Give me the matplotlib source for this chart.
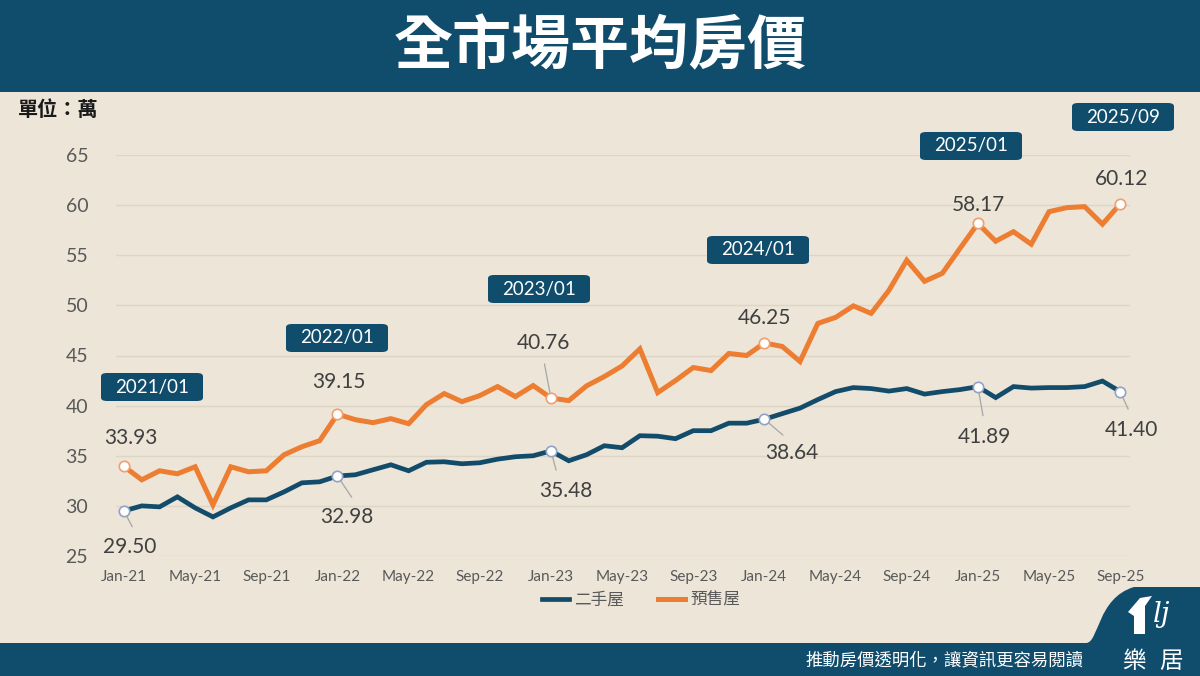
import matplotlib
matplotlib.use("Agg")
import matplotlib.pyplot as plt
from matplotlib.patches import FancyBboxPatch, Rectangle, PathPatch, Polygon
from matplotlib.path import Path
from matplotlib.lines import Line2D

plt.rcParams['font.family'] = ['Lato', 'Noto Sans CJK TC', 'DejaVu Sans']

# ---------------- data ----------------
title = "全市場平均房價"
unit_label = "單位：萬"
series_names = ["二手屋", "預售屋"]
tick_labels = ["Jan-21", "May-21", "Sep-21", "Jan-22", "May-22", "Sep-22",
               "Jan-23", "May-23", "Sep-23", "Jan-24", "May-24", "Sep-24",
               "Jan-25", "May-25", "Sep-25"]
resale = [29.50, 30.0, 29.9, 30.9, 29.8, 28.9, 29.8, 30.6, 30.6, 31.4, 32.3, 32.4,
          32.98, 33.1, 33.6, 34.1, 33.5, 34.35, 34.4, 34.2, 34.3, 34.66, 34.9, 35.0,
          35.48, 34.5, 35.1, 36.0, 35.8, 37.0, 36.95, 36.7, 37.5, 37.5, 38.25, 38.25,
          38.64, 39.2, 39.75, 40.6, 41.4, 41.8, 41.7, 41.45, 41.7, 41.15, 41.4, 41.6,
          41.89, 40.8, 41.9, 41.75, 41.8, 41.8, 41.9, 42.45, 41.40]
presale = [33.93, 32.6, 33.5, 33.2, 33.9, 30.1, 33.9, 33.4, 33.5, 35.1, 35.9, 36.5,
           39.15, 38.6, 38.3, 38.7, 38.2, 40.1, 41.2, 40.4, 41.0, 41.9, 40.9, 42.0,
           40.76, 40.5, 41.97, 42.9, 43.96, 45.66, 41.3, 42.5, 43.8, 43.5, 45.2, 45.0,
           46.25, 45.9, 44.4, 48.2, 48.8, 49.95, 49.2, 51.5, 54.5, 52.4, 53.2, 55.7,
           58.17, 56.4, 57.35, 56.1, 59.35, 59.75, 59.85, 58.1, 60.12]
highlight_idx = [0, 12, 24, 36, 48, 56]
highlight_tags = ["2021/01", "2022/01", "2023/01", "2024/01", "2025/01", "2025/09"]
yticks = [25, 30, 35, 40, 45, 50, 55, 60, 65]
footer_text = "推動房價透明化，讓資訊更容易閱讀"

# ---------------- styling ----------------
W, H = 1200, 676
BG = "#ece5d8"
NAVY = "#104c6c"
BLUE = "#134b6b"
ORANGE = "#ed7d31"
GRID = "#ddd5c6"
TXT = "#404040"
TICK = "#595959"

def fx(x):
    return x / W

def fy(y):
    return 1 - y / H

fig = plt.figure(figsize=(W / 100, H / 100), dpi=100, facecolor=BG)

# header band
fig.patches.append(Rectangle((0, fy(92)), 1, 92 / H, transform=fig.transFigure,
                             facecolor=NAVY, edgecolor="none", zorder=0))
fig.text(0.5, fy(47), title, ha="center", va="center", color="white",
         fontsize=42.5, fontweight="bold", family=["Noto Sans CJK TC"])
fig.text(fx(18), fy(109), unit_label, ha="left", va="center", color="#1a1a1a",
         fontsize=14.5, fontweight="bold", family=["Noto Sans CJK TC"])

# footer band with bump
verts = [(0, 643), (1086, 643),
         (1099, 643), (1097, 598), (1134, 587),
         (1200, 587), (1200, 676), (0, 676), (0, 643)]
codes = [Path.MOVETO, Path.LINETO, Path.CURVE4, Path.CURVE4, Path.CURVE4,
         Path.LINETO, Path.LINETO, Path.LINETO, Path.CLOSEPOLY]
path = Path([(fx(x), fy(y)) for x, y in verts], codes)
fig.patches.append(PathPatch(path, transform=fig.transFigure, facecolor=NAVY,
                             edgecolor="none", zorder=0))
fig.text(fx(944), fy(660), footer_text, ha="center", va="center", color="white",
         fontsize=12.5, family=["Noto Sans CJK TC"])
fig.text(fx(1134), fy(661), "樂", ha="center", va="center", color="white",
         fontsize=17, family=["Noto Sans CJK TC"])
fig.text(fx(1171), fy(661), "居", ha="center", va="center", color="white",
         fontsize=17, family=["Noto Sans CJK TC"])
# simple logo mark
roof = [(1128, 612), (1140, 598), (1152, 596), (1145, 606), (1145, 634), (1134, 634), (1134, 616)]
fig.patches.append(Polygon([(fx(x), fy(y)) for x, y in roof], closed=True,
                           transform=fig.transFigure, facecolor="white",
                           edgecolor="none", zorder=1))
fig.text(fx(1162), fy(614), "lj", ha="center", va="center", color="white",
         fontsize=20, style="italic", family=["DejaVu Serif"])

# ---------------- axes ----------------
ax_left, ax_right = 116, 1130
ax_top, ax_bottom = 155, 556
ax = fig.add_axes([fx(ax_left), fy(ax_bottom), (ax_right - ax_left) / W,
                   (ax_bottom - ax_top) / H])
ax.set_facecolor("none")
x = list(range(len(resale)))
ax.set_xlim(-0.45, len(resale) - 1 + 0.55)
ax.set_ylim(25, 65)
ax.set_yticks(yticks)
ax.set_xticks(x[::4])
ax.set_xticklabels(tick_labels)
ax.grid(axis="y", color=GRID, linewidth=1.0)
ax.set_axisbelow(True)
for s in ax.spines.values():
    s.set_visible(False)
ax.tick_params(axis="y", length=0, pad=20, labelsize=14, labelcolor=TICK)
ax.tick_params(axis="x", length=0, pad=10, labelsize=11, labelcolor=TICK)

ax.plot(x, resale, color=BLUE, linewidth=3.4, solid_joinstyle="miter", zorder=3)
ax.plot(x, presale, color=ORANGE, linewidth=3.6, solid_joinstyle="miter", zorder=3)

hx = [x[i] for i in highlight_idx]
ax.plot(hx, [resale[i] for i in highlight_idx], linestyle="none", marker="o",
        markersize=7.5, markerfacecolor="white", markeredgecolor="#8fa3c8",
        markeredgewidth=1.2, zorder=4)
ax.plot(hx, [presale[i] for i in highlight_idx], linestyle="none", marker="o",
        markersize=7.5, markerfacecolor="white", markeredgecolor="#f0a070",
        markeredgewidth=1.2, zorder=4)

# value labels (offsets in pixels)
presale_off = [(7, 28), (1, 32), (-7, 55), (0, 25), (1, 18), (1, 25)]
resale_off = [(6, -36), (9, -41), (15, -40), (27, -34), (7, -50), (11, -38)]
presale_lead = [None, None, (0.47, 0.0), None, None, None]
resale_lead = [(0.64, 1.0), (0.72, 1.0), (0.37, 1.0), (0.52, 1.0), (0.5, 1.0), (0.53, 1.0)]

def label(val, i, off, relpos):
    kw = dict(textcoords="offset pixels", ha="center", va="center",
              fontsize=15, color=TXT, zorder=5)
    if relpos is not None:
        kw["arrowprops"] = dict(arrowstyle="-", color="#a6a6a6", lw=0.9,
                                shrinkA=6, shrinkB=4, relpos=relpos)
    ax.annotate(f"{val:.2f}", xy=(x[i], val), xytext=off, **kw)

for k, i in enumerate(highlight_idx):
    label(presale[i], i, presale_off[k], presale_lead[k])
    label(resale[i], i, resale_off[k], resale_lead[k])

# date tag boxes
tag_centers = [(152, 387), (337, 338), (539, 289), (758, 250), (971, 146), (1123, 117)]
bw, bh = 102, 28
for tag, (cx, cy) in zip(highlight_tags, tag_centers):
    fig.patches.append(FancyBboxPatch((fx(cx - bw / 2), fy(cy + bh / 2)), bw / W, bh / H,
                                      boxstyle="round,pad=0,rounding_size=0.005",
                                      transform=fig.transFigure, facecolor=NAVY,
                                      edgecolor="none", zorder=2))
    fig.text(fx(cx), fy(cy), tag, ha="center", va="center", color="white",
             fontsize=13.5, zorder=3)

# legend
handles = [Line2D([0], [0], color=BLUE, linewidth=3.4),
           Line2D([0], [0], color=ORANGE, linewidth=3.6)]
fig.legend(handles, series_names, loc="center", bbox_to_anchor=(fx(641), fy(600)),
           ncol=2, frameon=False, handlelength=1.65, handletextpad=0.3,
           columnspacing=2.0, labelcolor=TICK, prop={"family": ["Noto Sans CJK TC"], "size": 12})

fig.savefig("out.png", dpi=100, facecolor=BG)
